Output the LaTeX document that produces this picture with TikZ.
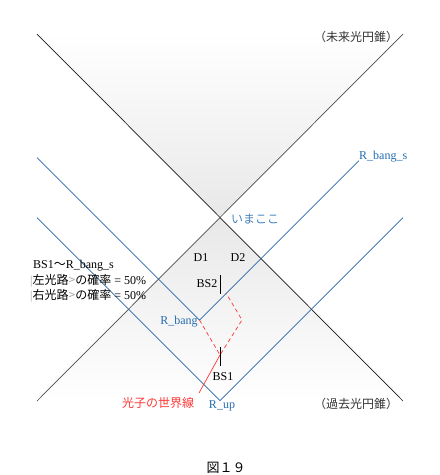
\documentclass[tikz,border=0pt]{standalone}
\usepackage{fontspec}
\setmainfont{Liberation Serif}
\newfontfamily\jp{Noto Sans CJK JP}
\definecolor{lineblue}{RGB}{40,102,168}
\definecolor{textblue}{RGB}{36,108,176}
\definecolor{photonred}{RGB}{255,55,55}
\def\ket#1{{\color{gray!70}#1}}

\begin{document}
\begin{tikzpicture}[x=1pt, y=-1pt, font=\fontsize{12}{15}\selectfont,
  blu/.style={color=lineblue, line width=0.7pt},
  lbl/.style={inner sep=0pt},
  bluelbl/.style={inner sep=0pt, text=textblue}]
\useasboundingbox (0,0) rectangle (440,475);
% light cone corners
\coordinate (tl) at (37,34);
\coordinate (tr) at (403,34);
\coordinate (bl) at (37,401);
\coordinate (br) at (403,401);
\coordinate (now) at (220,217.5);
\shade[top color=white, bottom color=black!9] (tl) -- (tr) -- (now) -- cycle;
\shade[top color=black!9, bottom color=white] (now) -- (bl) -- (br) -- cycle;
\draw[black!90, line width=0.7pt] (tl) -- (br);
\draw[black!70, line width=0.7pt] (tr) -- (bl);
% light cones of the events
\coordinate (bangl) at (37,157.5);
\coordinate (rbang) at (199.5,320);
\coordinate (bangr) at (359,160.5);
\coordinate (upl) at (37,217.5);
\coordinate (rup) at (220,400.5);
\coordinate (upr) at (403,217.5);
\draw[blu] (bangl) -- (rbang) -- (bangr);
\draw[blu] (upl) -- (rup) -- (upr);
% photon
\coordinate (src) at (199,393);
\coordinate (bs1) at (220,355);
\coordinate (turn) at (242,320);
\coordinate (bs2) at (226,293);
\draw[photonred, line width=0.7pt] (src) -- (bs1);
\draw[photonred, line width=0.7pt, dash pattern=on 4pt off 3pt] (rbang) -- (bs1) -- (turn) -- (bs2);
% beam splitters
\foreach \y in {347,275}{
  \draw[line width=0.8pt] (220,\y) -- ++(0,19);
}
% labels
\node[lbl, text=black!80] (future) at (356,37) {\jp （未来光円錐）};
\node[lbl, text=black!80] (past) at (356,404) {\jp （過去光円錐）};
\node[bluelbl, anchor=west] (rbangs) at (359,157) {R\_bang\_s};
\node[bluelbl, anchor=west, text=textblue!85] (here) at (231,219) {\jp いまここ};
\node[lbl] (d1) at (201,258) {D1};
\node[lbl] (d2) at (238,258) {D2};
\node[lbl] (bs2l) at (207,284) {BS2};
\node[lbl] (bs1l) at (223,377) {BS1};
\node[bluelbl] (rbangl) at (179,322) {R\_bang};
\node[bluelbl] (rupl) at (222,406) {R\_up};
\node[lbl, text=photonred] (world) at (158,403) {\jp 光子の世界線};
\node[lbl, anchor=west] (p0) at (33,266) {BS1{\jp ～}R\_bang\_s};
\node[lbl, anchor=west] (p1) at (30,281) {\ket{|}{\jp 左光路\ket{>}の確率} = 50\%};
\node[lbl, anchor=west] (p2) at (30,296) {\ket{|}{\jp 右光路\ket{>}の確率} = 50\%};
\node[lbl, font=\fontsize{13}{15}\selectfont] (fig) at (226,468) {\jp 図１９};
\end{tikzpicture}
\end{document}
